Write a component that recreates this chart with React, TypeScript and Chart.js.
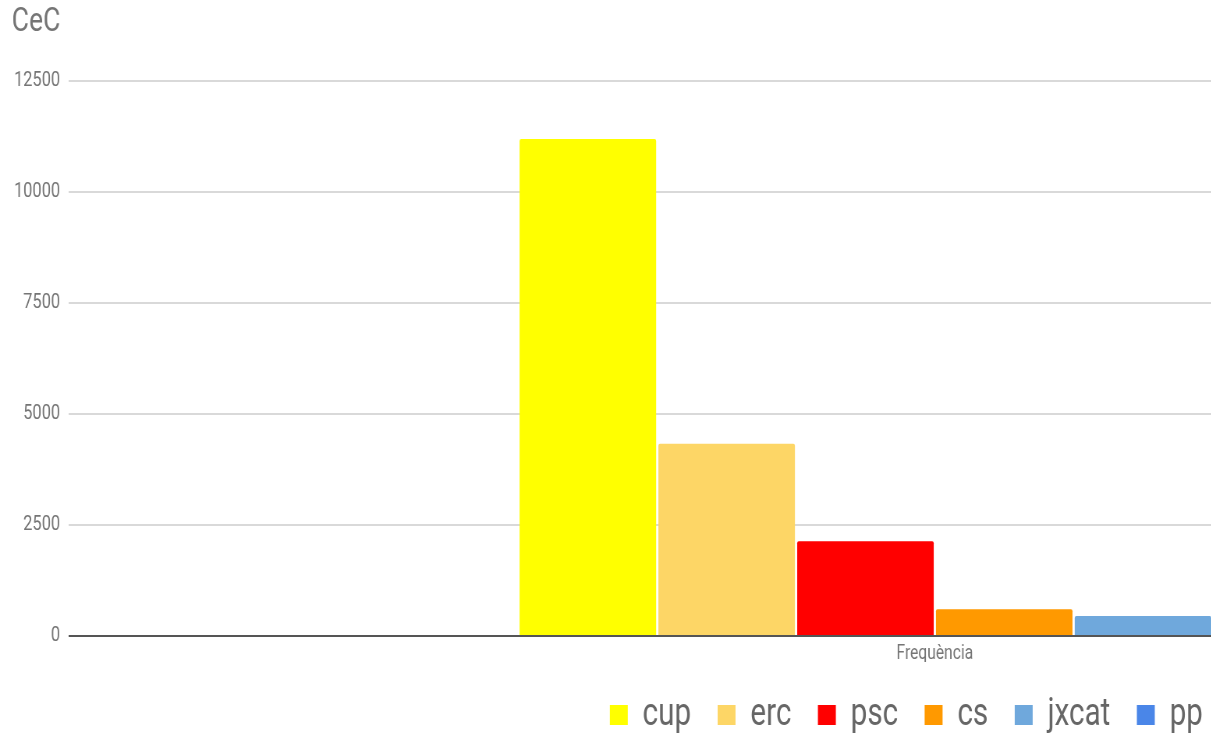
import React, { useEffect, useRef } from "react";
import { Chart, registerables } from "chart.js";

Chart.register(...registerables);

const chartTitle = "CeC";
const categories = ["Frequència"];
const seriesNames = ["cup", "erc", "psc", "cs", "jxcat", "pp"];
const seriesValues = [11190, 4330, 2135, 600, 450, 300];
const seriesColors = ["#ffff00", "#fdd666", "#ff0000", "#ff9900", "#6fa8dc", "#4a86e8"];
const yTicks = [0, 2500, 5000, 7500, 10000, 12500];

const SX = 0.78;
const FULL_W = 2324;
const VIEW_H = 736;
const CANVAS_H = 744;

export default function App() {
  const ref = useRef<HTMLCanvasElement | null>(null);
  useEffect(() => {
    if (!ref.current) return;
    const chart = new Chart(ref.current, {
      type: "bar",
      data: {
        labels: categories,
        datasets: seriesNames.map((n, i) => ({
          label: n,
          data: [seriesValues[i]],
          backgroundColor: seriesColors[i],
          borderWidth: 0,
          borderRadius: 2,
          categoryPercentage: 0.4807,
          barPercentage: 0.984,
        })),
      },
      options: {
        animation: false,
        responsive: false,
        devicePixelRatio: 1,
        layout: { padding: { left: 15, right: 15, top: 0, bottom: 0 } },
        plugins: {
          title: {
            display: true,
            text: chartTitle,
            align: "start",
            color: "#757575",
            font: { family: "Roboto", size: 34, weight: "normal" },
            padding: { top: 2, bottom: 38 },
          },
          legend: {
            position: "bottom",
            align: "center",
            labels: {
              boxWidth: 23,
              boxHeight: 20,
              color: "#666666",
              padding: 34,
              font: { family: "Roboto", size: 38 },
            },
          },
          tooltip: { enabled: false },
        },
        scales: {
          x: {
            grid: { display: false, drawTicks: false },
            border: { display: false },
            afterFit: (scale: any) => {
              scale.height = 26;
            },
            ticks: {
              color: "#757575",
              padding: 6,
              font: { family: "Roboto", size: 20 },
            },
          },
          y: {
            min: 0,
            max: 12500,
            border: { display: false },
            afterBuildTicks: (scale: any) => {
              scale.ticks = yTicks.map((v) => ({ value: v }));
            },
            afterFit: (scale: any) => {
              scale.width = 73;
            },
            grid: {
              drawTicks: false,
              color: (ctx: any) => (ctx.tick && ctx.tick.value === 0 ? "#555555" : "#d9d9d9"),
              lineWidth: 2,
            },
            ticks: {
              color: "#757575",
              padding: 11,
              font: { family: "Roboto", size: 21 },
              callback: (v: any) => String(v),
            },
          },
        },
      },
    });
    return () => chart.destroy();
  }, []);
  return (
    <div
      style={{
        position: "fixed",
        left: 0,
        top: 0,
        width: 1211,
        height: VIEW_H,
        overflow: "hidden",
        background: "#ffffff",
      }}
    >
      <div
        style={{
          width: FULL_W,
          height: CANVAS_H,
          transform: `scaleX(${SX})`,
          transformOrigin: "0 0",
        }}
      >
        <canvas
          ref={ref}
          width={FULL_W}
          height={CANVAS_H}
          style={{ width: FULL_W, height: CANVAS_H, display: "block" }}
        />
      </div>
    </div>
  );
}
